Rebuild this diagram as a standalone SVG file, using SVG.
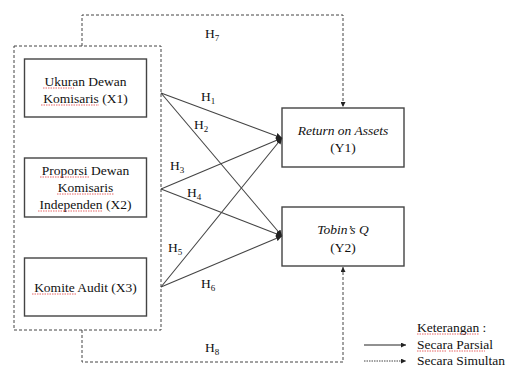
<svg xmlns="http://www.w3.org/2000/svg" width="507" height="368" viewBox="0 0 507 368">
<defs>
<marker id="ah" viewBox="0 0 10 10" refX="10" refY="5" markerWidth="6" markerHeight="6" markerUnits="userSpaceOnUse" orient="auto">
<path d="M0,0 L10,5 L0,10 z" fill="#222"/>
</marker>
<marker id="ahs" viewBox="0 0 10 10" refX="10" refY="5" markerWidth="5" markerHeight="5" markerUnits="userSpaceOnUse" orient="auto">
<path d="M0,0 L10,5 L0,10 z" fill="#222"/>
</marker>
</defs>
<style>
text{font-family:"Liberation Serif","Times New Roman",serif;font-size:13.5px;fill:#111;}
.c{text-anchor:middle;}
.i{font-style:italic;}
.sub{font-size:9px;}
.box{fill:#fff;stroke:#444;stroke-width:1.4;}
.dash{fill:none;stroke:#444;stroke-width:1;stroke-dasharray:3,2;}
.solid{fill:none;stroke:#444;stroke-width:1.1;marker-end:url(#ah);}
.spell{fill:none;stroke:#e04040;stroke-width:0.8;stroke-dasharray:1.5,1;}
</style>
<rect width="507" height="368" fill="#fff"/>

<g id="group-x">
<rect class="dash" x="14" y="46" width="147" height="284"/>
</g>

<g id="x1">
<rect class="box" x="24.5" y="59" width="122" height="58"/>
<text class="c" x="85.5" y="86">Ukuran Dewan</text>
<text class="c" x="85.5" y="103">Komisaris (X1)</text>
<path class="spell" d="M43,88 H74 M41,105 H99"/>
</g>

<g id="x2">
<rect class="box" x="24.5" y="158" width="122" height="59"/>
<text class="c" x="85.5" y="175">Proporsi Dewan</text>
<text class="c" x="85.5" y="192">Komisaris</text>
<text class="c" x="85.5" y="209">Independen (X2)</text>
<path class="spell" d="M40,177 H90 M57,194 H114 M38,211 H103"/>
</g>

<g id="x3">
<rect class="box" x="24.5" y="258" width="122" height="58"/>
<text class="c" x="85.5" y="292">Komite Audit (X3)</text>
<path class="spell" d="M32,294 H77"/>
</g>

<g id="y1">
<rect class="box" x="282" y="108" width="122" height="59"/>
<text class="c i" x="343" y="135">Return on Assets</text>
<text class="c" x="343" y="152">(Y1)</text>
</g>

<g id="y2">
<rect class="box" x="282" y="207" width="122" height="59"/>
<text class="c i" x="343" y="234">Tobin’s Q</text>
<text class="c" x="343" y="252">(Y2)</text>
</g>

<g id="connectors">
<line class="solid" x1="161" y1="93" x2="282" y2="138"/>
<line class="solid" x1="161" y1="93" x2="282" y2="236"/>
<line class="solid" x1="161" y1="189" x2="282" y2="138"/>
<line class="solid" x1="161" y1="189" x2="282" y2="236"/>
<line class="solid" x1="161" y1="287" x2="282" y2="138"/>
<line class="solid" x1="161" y1="287" x2="282" y2="236"/>
<path class="dash" d="M82,46 V15 H343 V107" marker-end="url(#ahs)"/>
<path class="dash" d="M82,330 V362 H343 V267" marker-end="url(#ahs)"/>
</g>

<g id="labels">
<text x="205" y="38">H<tspan class="sub" dy="3">7</tspan></text>
<text x="201" y="101">H<tspan class="sub" dy="3">1</tspan></text>
<text x="194" y="129">H<tspan class="sub" dy="3">2</tspan></text>
<text x="170" y="170">H<tspan class="sub" dy="3">3</tspan></text>
<text x="187" y="197">H<tspan class="sub" dy="3">4</tspan></text>
<text x="168" y="252">H<tspan class="sub" dy="3">5</tspan></text>
<text x="201" y="288">H<tspan class="sub" dy="3">6</tspan></text>
<text x="205" y="352">H<tspan class="sub" dy="3">8</tspan></text>
</g>

<g id="legend">
<text x="417" y="332">Keterangan :</text>
<text x="417" y="349">Secara Parsial</text>
<text x="417" y="365">Secara Simultan</text>
<line x1="364" y1="345" x2="406" y2="345" stroke="#222" stroke-width="1" marker-end="url(#ahs)"/>
<line x1="364" y1="361" x2="406" y2="361" stroke="#444" stroke-width="1" stroke-dasharray="1.5,1" marker-end="url(#ahs)"/>
<path class="spell" d="M417,334 H479 M417,351 H446 M449,351 H485"/>
</g>
</svg>
